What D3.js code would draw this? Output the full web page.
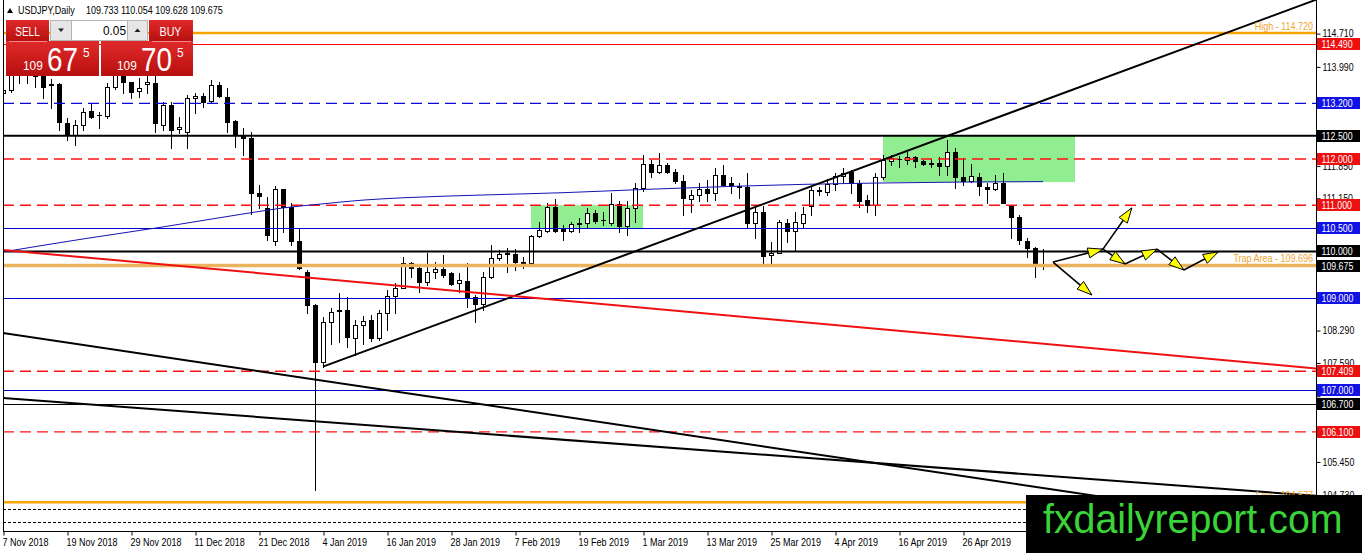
<!DOCTYPE html>
<html><head><meta charset="utf-8">
<script src="https://cdn.jsdelivr.net/npm/d3@7"></script>
<style>
html,body{margin:0;padding:0;background:#fff;overflow:hidden}
svg{display:block;font-family:"Liberation Sans",Arial,sans-serif}
</style></head><body>
<svg id="c" width="1362" height="553"></svg>
<script>
// ---------------- DATA ----------------
const opens = [113.42,113.50,113.95,113.82,113.86,113.80,113.60,113.62,112.78,112.52,
112.73,113.03,112.96,112.92,113.55,113.80,113.66,113.47,113.62,113.64,
112.73,113.17,112.64,112.59,113.31,113.36,113.26,113.60,113.33,112.83,
112.50,112.45,111.26,110.93,110.23,111.34,110.97,110.23,109.56,108.84,
107.62,108.48,108.72,108.73,108.12,108.41,108.52,108.12,108.66,109.04,
109.20,109.74,109.64,109.35,109.56,109.61,109.53,109.31,109.37,109.02,
108.86,109.45,109.85,109.95,109.94,109.78,109.74,110.34,110.45,110.97,
110.48,110.44,110.59,110.61,110.84,110.67,110.62,111.02,110.54,110.94,
111.37,111.88,111.71,111.87,111.72,111.53,111.14,111.22,111.34,111.27,
111.65,111.47,111.41,111.39,110.62,110.86,109.93,109.96,110.61,110.45,
110.62,110.99,111.33,111.29,111.45,111.64,111.72,111.47,111.11,111.00,
111.62,111.96,112.00,111.98,112.04,111.96,111.91,111.92,111.85,112.16,
111.60,111.53,111.62,111.39,111.34,111.49,110.98,110.74,110.23,110.07,109.733];
const highs = [113.80,114.07,114.04,114.00,114.08,113.95,113.72,113.64,112.88,112.84,
113.10,113.21,113.01,113.64,113.90,114.03,113.67,113.75,113.83,113.80,
113.23,113.23,112.91,113.38,113.43,113.43,113.71,113.67,113.53,112.84,
112.66,112.59,111.44,111.18,111.41,111.36,111.04,110.48,109.60,108.86,
108.59,108.77,109.10,109.02,108.52,108.60,108.63,108.73,109.17,109.31,
109.89,109.78,109.66,109.97,109.78,109.92,109.56,109.53,109.74,109.06,
109.56,110.14,110.03,110.07,110.05,109.89,110.36,110.64,111.05,111.13,
110.57,110.64,110.72,110.93,110.90,110.86,111.26,111.08,111.08,111.47,
112.08,111.98,112.12,111.92,111.78,111.65,111.33,111.47,111.54,111.80,
111.87,111.62,111.47,111.69,110.97,110.98,110.21,110.68,110.70,110.86,
110.97,111.40,111.40,111.56,111.69,111.80,111.76,111.54,111.22,111.69,
112.08,112.08,112.06,112.16,112.06,111.97,111.99,112.05,112.41,112.23,
112.01,111.89,111.70,111.49,111.65,111.69,111.00,110.79,110.28,110.09,110.054];
const lows = [112.95,113.44,113.65,113.65,113.55,113.32,113.10,112.63,112.41,112.30,
112.63,112.88,112.67,112.88,113.52,113.43,113.32,113.34,113.43,112.58,
112.63,112.24,112.55,112.23,112.99,113.13,113.20,113.34,112.59,112.25,
112.08,110.82,110.93,110.25,110.14,110.43,110.14,109.62,108.68,104.84,
107.51,108.01,108.05,107.94,107.76,108.01,108.07,108.09,108.30,108.66,
109.20,109.45,109.13,109.28,109.42,109.45,109.28,109.13,108.79,108.48,
108.73,109.42,109.81,109.56,109.60,109.64,109.72,110.32,110.43,110.43,
110.25,110.41,110.43,110.53,110.61,110.57,110.57,110.41,110.36,110.64,
111.31,111.62,111.69,111.69,111.47,110.79,110.86,111.08,111.08,111.11,
111.44,111.27,111.15,110.50,110.28,109.71,109.71,109.96,110.21,110.00,
110.50,110.79,111.22,111.22,111.33,111.51,111.27,110.97,110.86,110.79,
111.56,111.87,111.83,111.89,111.83,111.87,111.83,111.65,111.65,111.37,
111.44,111.51,111.22,111.04,111.33,111.04,110.28,110.16,109.89,109.45,109.628];
const closes = [113.50,113.95,113.82,113.86,113.80,113.55,113.63,112.80,112.52,112.73,
113.01,112.91,112.94,113.55,113.82,113.66,113.45,113.53,113.66,112.78,
113.17,112.63,112.70,113.31,113.36,113.24,113.60,113.35,112.80,112.52,
112.45,111.26,111.20,110.36,111.34,110.97,110.23,109.64,108.84,107.62,
108.48,108.70,108.73,108.14,108.41,108.50,108.12,108.66,109.04,109.20,
109.74,109.64,109.35,109.56,109.61,109.49,109.30,109.38,109.02,108.86,
109.45,109.85,109.94,109.96,109.78,109.71,110.34,110.46,110.97,110.45,
110.44,110.59,110.62,110.84,110.66,110.68,111.02,110.54,110.94,111.37,
111.88,111.71,111.87,111.72,111.53,111.15,111.22,111.34,111.27,111.65,
111.44,111.44,111.39,110.62,110.86,109.90,109.97,110.64,110.45,110.64,
110.82,111.33,111.30,111.45,111.64,111.69,111.47,111.09,111.00,111.62,
111.98,112.01,111.99,112.04,111.96,111.89,111.90,111.85,112.16,111.60,
111.53,111.63,111.41,111.34,111.49,111.05,110.74,110.25,110.07,109.71,109.675];

const tickBars = [0,8,16,24,32,40,48,56,64,72,80,88,96,104,112,120];
const tickLabels = ["7 Nov 2018","19 Nov 2018","29 Nov 2018","11 Dec 2018","21 Dec 2018",
  "4 Jan 2019","16 Jan 2019","28 Jan 2019","7 Feb 2019","19 Feb 2019","1 Mar 2019",
  "13 Mar 2019","25 Mar 2019","4 Apr 2019","16 Apr 2019","26 Apr 2019"];
const priceTicks = [114.71,113.99,113.28,112.57,111.85,111.15,110.43,109.72,109.01,108.29,107.59,106.87,106.16,105.45,104.73];

const levelValues = [114.72,114.49,113.2,112.5,112.0,111.0,110.5,110.0,109.696,109.0,107.409,107.0,106.7,106.1,104.577,104.43,104.15];
const levelKinds  = ["high","red","blueDash","black","redDash","redDash","blue","black","trap","blue","redDash","blue","blackThin","redDash","low","dotted","dotted"];

const noteTexts  = ["High - 114.720","Trap Area - 109.696","Low - 104.577"];
const notePrices = [114.72,109.696,104.577];

const maBars   = [0,10,20,30,35,40,45,50,60,70,80,90,100,110,120,130];
const maValues = [109.99,110.27,110.53,110.81,110.94,111.03,111.11,111.16,111.22,111.27,111.34,111.40,111.45,111.48,111.50,111.51];

const trendKinds  = ["up","red","down1","down2"];
const trendBars   = [[40,130],[0,130],[0,130],[0,130]];
const trendPrices = [[107.51,113.26],[110.03,108.004],[108.237,104.886],[106.832,105.157]];

const boxBars   = [[66,80],[110,134]];
const boxPrices = [[111.0,110.5],[112.5,111.5]];

const arrowFromBar   = [131.25,131.25,137.5,137.5,140.25,144.25,147.6];
const arrowFromPrice = [109.77,109.77,110.05,110.05,109.73,110.05,109.60];
const arrowToBar     = [137.5,136.1,141.1,140.25,144.25,147.6,151.9];
const arrowToPrice   = [110.05,109.06,110.94,109.73,110.05,109.60,109.99];

const bidPrice = 109.675;
const symbolText = "USDJPY,Daily";
const ohlcText = "109.733 110.054 109.628 109.675";
const lotText = "0.05";
const sellQuote = ["109","67","5"];
const buyQuote  = ["109","70","5"];
const watermark = "fxdailyreport.com";

// ---------------- CHART ----------------
const W=1362,H=553,L=3,R=1316,B=531;
const svg = d3.select("#c");
const x = d3.scaleLinear().domain([0,130]).range([3,1043]);
const y = d3.scaleLinear().domain([112.5,109.0]).range([135.8,297.71]);

svg.append("rect").attr("width",W).attr("height",H).attr("fill","#fff");
const defs = svg.append("defs");
defs.append("clipPath").attr("id","plot").append("rect").attr("x",L).attr("y",0).attr("width",R-L).attr("height",B);
const plot = svg.append("g").attr("clip-path","url(#plot)");

function T(g,px,py,s,o){o=o||{};
  const t=g.append("text").attr("transform",`translate(${px},${py}) scale(${o.sx||0.9},1)`)
   .attr("font-size",o.size||10).attr("fill",o.fill||"#000").text(s);
  if(o.anchor) t.attr("text-anchor",o.anchor);
  return t;}

// rectangles (background)
boxBars.forEach((b,k)=>{
  plot.append("rect").attr("x",x(b[0])).attr("y",y(boxPrices[k][0]))
   .attr("width",x(b[1])-x(b[0])).attr("height",y(boxPrices[k][1])-y(boxPrices[k][0]))
   .attr("fill","#90ee90");
});

// candles
const cg = plot.append("g").attr("shape-rendering","crispEdges");
opens.forEach((o,i)=>{
  const cx=Math.round(x(i)), c=closes[i], h=highs[i], l=lows[i];
  cg.append("line").attr("x1",cx+0.5).attr("x2",cx+0.5).attr("y1",Math.round(y(h))).attr("y2",Math.round(y(l))+1).attr("stroke","#000");
  const top=Math.round(y(Math.max(o,c))), bot=Math.round(y(Math.min(o,c)));
  if(bot-top<1){
    cg.append("rect").attr("x",cx-2).attr("y",top).attr("width",5).attr("height",1).attr("fill","#000");
  } else if(c>o){
    cg.append("rect").attr("x",cx-1.5).attr("y",top+0.5).attr("width",4).attr("height",bot-top).attr("fill","#fff").attr("stroke","#000");
  } else {
    cg.append("rect").attr("x",cx-2).attr("y",top).attr("width",5).attr("height",bot-top+1).attr("fill","#000");
  }
});

// horizontal levels
const levelStyle = {
  high:{c:"#f7a400",w:2.5}, low:{c:"#f7a400",w:2.5}, trap:{c:"#ecb35f",w:3.5},
  red:{c:"#ff0000",w:1}, redDash:{c:"#ff1010",w:1.4,d:"11,6"},
  blue:{c:"#0000d0",w:1}, blueDash:{c:"#0a0ad8",w:1.4,d:"11,6"},
  black:{c:"#000",w:2}, blackThin:{c:"#000",w:1}, dotted:{c:"#000",w:1,d:"3,2"}
};
const lg = plot.append("g");
levelValues.forEach((v,k)=>{
  const s=levelStyle[levelKinds[k]];
  let py=y(v); if(s.w===1) py=Math.round(py)+0.5;
  const ln=lg.append("line").attr("x1",L).attr("x2",R).attr("y1",py).attr("y2",py)
    .attr("stroke",s.c).attr("stroke-width",s.w);
  if(s.w===1) ln.attr("shape-rendering","crispEdges");
  if(s.d) ln.attr("stroke-dasharray",s.d);
});

// moving average
plot.append("path").datum(maBars.map((b,k)=>[b,maValues[k]]))
  .attr("d",d3.line().x(d=>x(d[0])).y(d=>y(d[1])).curve(d3.curveMonotoneX))
  .attr("fill","none").attr("stroke","#1414b0").attr("stroke-width",1);

// trend lines
const trendStyle = {up:{c:"#000",w:2,ray:false}, red:{c:"#ee1111",w:2,ray:true}, down1:{c:"#000",w:2,ray:true}, down2:{c:"#000",w:2,ray:true}};
trendKinds.forEach((k,j)=>{
  const s=trendStyle[k], [b0,b1]=trendBars[j], [p0,p1]=trendPrices[j];
  const f=b=>p0+(p1-p0)*(b-b0)/(b1-b0);
  const start=s.ray?-2:b0, end=170;
  plot.append("line").attr("x1",x(start)).attr("y1",y(f(start))).attr("x2",x(end)).attr("y2",y(f(end)))
    .attr("stroke",s.c).attr("stroke-width",s.w);
});

// arrows
const ag = plot.append("g");
arrowFromBar.forEach((b,k)=>{
  const sx=x(b), sy=y(arrowFromPrice[k]), ex=x(arrowToBar[k]), ey=y(arrowToPrice[k]);
  ag.append("line").attr("x1",sx).attr("y1",sy).attr("x2",ex).attr("y2",ey).attr("stroke","#000").attr("stroke-width",1.6);
});
arrowFromBar.forEach((b,k)=>{
  const sx=x(b), sy=y(arrowFromPrice[k]), ex=x(arrowToBar[k]), ey=y(arrowToPrice[k]);
  const dx=ex-sx, dy=ey-sy, len=Math.hypot(dx,dy), ux=dx/len, uy=dy/len, nx=-uy, ny=ux;
  const Lh=15, Wh=5, bx=ex-ux*Lh, by=ey-uy*Lh;
  ag.append("path").attr("d",`M${ex},${ey}L${bx+nx*Wh},${by+ny*Wh}L${bx-nx*Wh},${by-ny*Wh}Z`)
    .attr("fill","#ffff00").attr("stroke","#000").attr("stroke-width",1);
});

// level notes
noteTexts.forEach((t,k)=>{ T(plot,1313,y(notePrices[k])-3.5,t,{anchor:"end",fill:"#f0a530",sx:0.9}); });

// frame
const fr = svg.append("g").attr("shape-rendering","crispEdges");
fr.append("line").attr("x1",L+0.5).attr("x2",L+0.5).attr("y1",0).attr("y2",B).attr("stroke","#000");
fr.append("line").attr("x1",R+0.5).attr("x2",R+0.5).attr("y1",0).attr("y2",B).attr("stroke","#000");
fr.append("line").attr("x1",L).attr("x2",R+1).attr("y1",B+0.5).attr("y2",B+0.5).attr("stroke","#000");

// coloured price labels: which levels get an axis box
const labelFill = {red:"#ee0f0f", redDash:"#ee0f0f", blue:"#1212e6", blueDash:"#1212e6", black:"#000", blackThin:"#000"};
const boxed = levelValues.filter((v,k)=>labelFill[levelKinds[k]]).concat([bidPrice]);
const hiddenTick = t => boxed.some(v=>Math.abs(y(v)-y(t))<6.5);

// right axis
const ay = svg.append("g").attr("transform",`translate(${R+0.5},0)`)
  .call(d3.axisRight(y).tickValues(priceTicks).tickSize(4).tickPadding(2)
    .tickFormat(t=>hiddenTick(t)?"":d3.format(".3f")(t)));
ay.select(".domain").remove();
ay.selectAll("line").attr("stroke","#000");
ay.selectAll("text").attr("font-size",10).attr("font-family","Liberation Sans, Arial, sans-serif")
  .attr("fill","#000").attr("x",6/0.88).attr("transform","scale(0.88,1)");

// bottom axis
const ax = svg.append("g").attr("transform",`translate(0,${B+0.5})`)
  .call(d3.axisBottom(x).tickValues(tickBars).tickSize(4).tickPadding(3).tickFormat((d,i)=>tickLabels[i]));
ax.select(".domain").remove();
ax.selectAll("line").attr("stroke","#000").attr("transform","translate(0.5,0)");
ax.selectAll("text").attr("font-size",10).attr("font-family","Liberation Sans, Arial, sans-serif")
  .attr("fill","#000").attr("text-anchor","start").attr("x",-1/0.9).attr("transform","scale(0.9,1)");

const lab = svg.append("g");
function priceBox(v,fill){
  const g=lab.append("g").attr("transform",`translate(${R+1},${Math.round(y(v))})`);
  g.append("rect").attr("x",0).attr("y",-6).attr("width",43).attr("height",12).attr("fill",fill);
  T(g,4.5,3.6,d3.format(".3f")(v),{fill:"#fff",sx:0.88});
}
levelValues.forEach((v,k)=>{ const f=labelFill[levelKinds[k]]; if(f) priceBox(v,f); });
priceBox(bidPrice,"#000");

// title
const tg = svg.append("g");
tg.append("path").attr("d","M7,13H13L10,8Z").attr("fill","#000");
T(tg,18,14,symbolText,{sx:0.9});
T(tg,86,14,ohlcText,{sx:0.9});

// one-click trading panel
const grad = defs.append("linearGradient").attr("id","rg").attr("x1",0).attr("y1",0).attr("x2",0).attr("y2",1);
grad.append("stop").attr("offset","0%").attr("stop-color","#e02a2a");
grad.append("stop").attr("offset","100%").attr("stop-color","#b80f0f");
const pn = svg.append("g");
[[6,20,43,21],[6,41,93,35],[149,20,44,21],[101,41,92,35]].forEach(r=>{
  pn.append("rect").attr("x",r[0]).attr("y",r[1]).attr("width",r[2]).attr("height",r[3]).attr("fill","url(#rg)");
});
pn.append("line").attr("x1",9).attr("x2",47).attr("y1",41.5).attr("y2",41.5).attr("stroke","#f08a8a");
pn.append("line").attr("x1",152).attr("x2",191).attr("y1",41.5).attr("y2",41.5).attr("stroke","#f08a8a");
pn.append("rect").attr("x",50.5).attr("y",20.5).attr("width",97).attr("height",20).attr("fill","#fff").attr("stroke","#b4b4b4");
pn.append("rect").attr("x",50.5).attr("y",20.5).attr("width",21).attr("height",20).attr("fill","#e6e6e6").attr("stroke","#b4b4b4");
pn.append("rect").attr("x",127.5).attr("y",20.5).attr("width",20).attr("height",20).attr("fill","#e6e6e6").attr("stroke","#b4b4b4");
pn.append("path").attr("d","M58,28.5H64L61,32Z").attr("fill","#222");
pn.append("path").attr("d","M134.5,32H140.5L137.5,28.5Z").attr("fill","#222");
T(pn,126,35,lotText,{anchor:"end",size:12.5,sx:0.95});
T(pn,27.5,35.5,"SELL",{anchor:"middle",size:12.5,fill:"#fff",sx:0.8});
T(pn,170.5,35.5,"BUY",{anchor:"middle",size:12.5,fill:"#fff",sx:0.85});
function quote(x0,q){
  T(pn,x0,70,q[0],{size:12.5,fill:"#fff",sx:0.95});
  T(pn,x0+24,71,q[1],{size:34,fill:"#fff",sx:0.82});
  T(pn,x0+60,57,q[2],{size:12.5,fill:"#fff",sx:0.95});
}
quote(23,sellQuote);
quote(117,buyQuote);

// watermark
svg.append("rect").attr("x",1026).attr("y",495).attr("width",336).attr("height",58).attr("fill","#000");
T(svg,1043,533,watermark,{size:41,fill:"#3ad43a",sx:0.96});
</script>
</body></html>
